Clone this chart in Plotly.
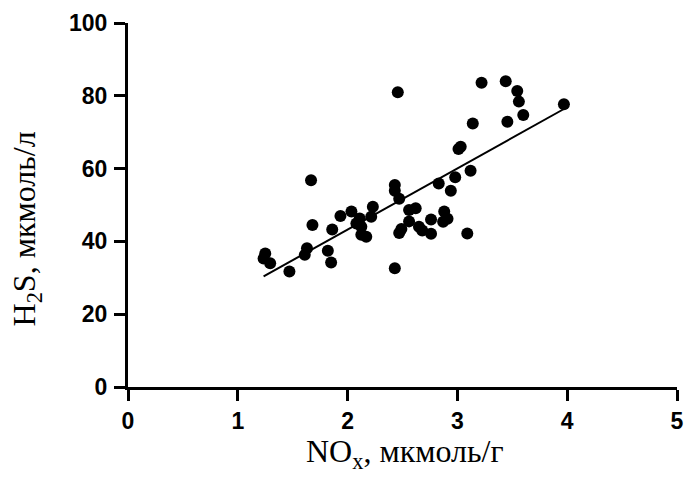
import numpy as np
import plotly.graph_objects as go

# NOx (мкмоль/г) and H2S (мкмоль/л) per sample
nox = [1.235, 1.25, 1.295, 1.47, 1.61, 1.63, 1.667, 1.68, 1.82, 1.85,
       1.86, 1.935, 2.035, 2.08, 2.11, 2.125, 2.125, 2.17, 2.215, 2.23,
       2.43, 2.43, 2.47, 2.457, 2.43, 2.47, 2.49, 2.56, 2.62, 2.56,
       2.65, 2.68, 2.76, 2.76, 2.83, 2.87, 2.88, 2.91, 2.94, 2.98,
       3.01, 3.03, 3.09, 3.12, 3.14, 3.22, 3.44, 3.455, 3.545, 3.56,
       3.60, 3.97]
h2s = [35.3, 36.7, 34.0, 31.7, 36.3, 38.1, 56.8, 44.5, 37.4, 34.2,
       43.3, 47.0, 48.2, 44.9, 46.3, 44.0, 41.8, 41.3, 46.8, 49.5,
       55.5, 53.9, 51.7, 81.0, 32.6, 42.3, 43.4, 48.6, 49.1, 45.5,
       44.0, 43.0, 42.1, 46.0, 55.9, 45.4, 48.2, 46.2, 53.9, 57.6,
       65.4, 66.0, 42.2, 59.4, 72.4, 83.6, 84.0, 72.9, 81.3, 78.4,
       74.7, 77.7]

x_ticks = [0, 1, 2, 3, 4, 5]
y_ticks = [0, 20, 40, 60, 80, 100]

# least-squares fit over the observed NOx span
slope, intercept = np.polyfit(nox, h2s, 1)
fit_x = np.array([min(nox), max(nox)])
fit_y = slope * fit_x + intercept

fig = go.Figure()
fig.add_trace(go.Scatter(
    x=fit_x, y=fit_y, mode="lines",
    line=dict(color="black", width=2), showlegend=False, hoverinfo="skip"))
fig.add_trace(go.Scatter(
    x=nox, y=h2s, mode="markers",
    marker=dict(color="black", size=12, line=dict(width=0)),
    showlegend=False))

tick_font = dict(family="Liberation Sans, Arial", size=23, color="black")
title_font = dict(family="Liberation Serif, Times New Roman", size=32, color="black")

axis_style = dict(
    showgrid=False, zeroline=False, showline=True, linecolor="black", linewidth=3,
    ticks="outside", ticklen=11, tickwidth=3, tickcolor="black",
    tickfont=tick_font, automargin=False)

fig.update_layout(
    width=688, height=486,
    margin=dict(l=128, r=11, t=23, b=99),
    plot_bgcolor="white", paper_bgcolor="white",
    xaxis=dict(range=[0, 5], tickvals=x_ticks,
               ticktext=[f"<b>{v}</b>" for v in x_ticks], **axis_style),
    yaxis=dict(range=[0, 100], tickvals=y_ticks, ticklabelstandoff=2,
               ticktext=[f"<b>{v}</b>" for v in y_ticks], **axis_style),
    annotations=[
        dict(text="NO<sub>x</sub>, мкмоль/г", font=title_font, showarrow=False,
             xref="paper", yref="paper", x=0.505, y=-0.182,
             xanchor="center", yanchor="middle"),
        dict(text="H<sub>2</sub>S, мкмоль/л", font=title_font, showarrow=False,
             textangle=-90, xref="paper", yref="paper", x=-0.185, y=0.434,
             xanchor="center", yanchor="middle"),
    ],
)

fig.write_html("out.html")
